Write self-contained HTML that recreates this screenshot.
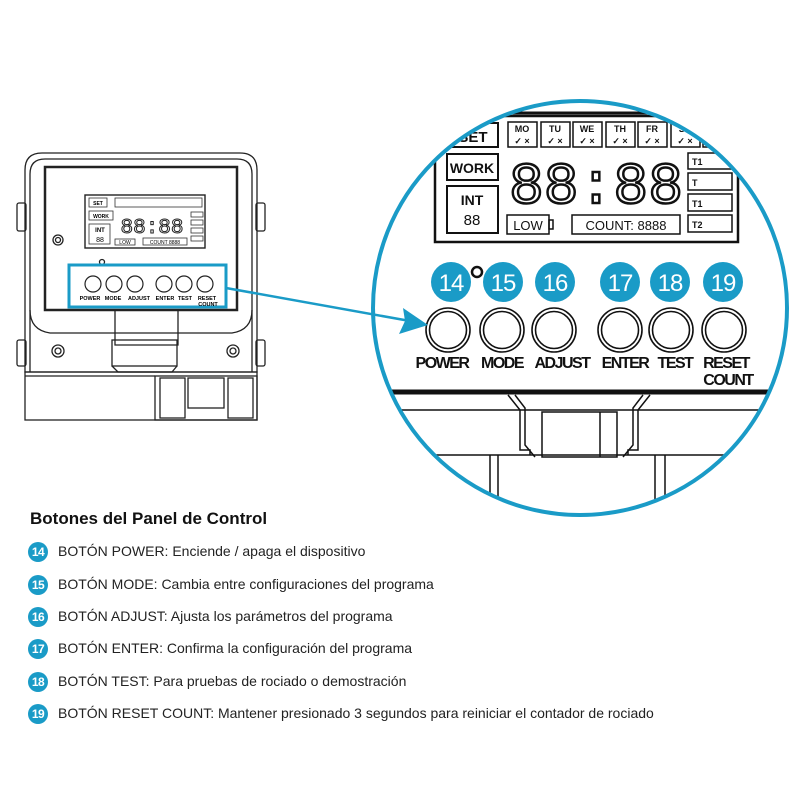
<!DOCTYPE html>
<html><head><meta charset="utf-8"><style>
html,body{margin:0;padding:0;background:#fff;width:800px;height:800px;overflow:hidden}
svg{display:block;font-family:"Liberation Sans",sans-serif}
.b{font-weight:bold}
</style></head><body>
<svg width="800" height="800" viewBox="0 0 800 800">
<defs><clipPath id="cc"><circle cx="580" cy="308" r="206"/></clipPath></defs>

<!-- Small device -->
<g fill="none" stroke="#222" stroke-width="1.3">
<rect x="17" y="203" width="9" height="28" rx="2"/>
<rect x="17" y="340" width="9" height="26" rx="2"/>
<rect x="256" y="203" width="9" height="28" rx="2"/>
<rect x="256" y="340" width="9" height="26" rx="2"/>
<path d="M25 372 V170 Q25 153 42 153 H240 Q257 153 257 170 V372 Z"/>
<path d="M30 372 V174 Q30 159 45 159 H237 Q252 159 252 174 V372"/>
<path d="M30 310 Q30 330 50 333 H232 Q252 330 252 310"/>
<rect x="45" y="167" width="192" height="143" stroke-width="2.5"/>
<rect x="85" y="195" width="120" height="53" stroke-width="1.4"/>
<circle cx="58" cy="240" r="5"/><circle cx="58" cy="240" r="2.5"/>
<circle cx="58" cy="351" r="6"/><circle cx="58" cy="351" r="3"/>
<circle cx="233" cy="351" r="6"/><circle cx="233" cy="351" r="3"/>
<rect x="25" y="372" width="232" height="48"/>
<line x1="25" y1="376" x2="155" y2="376"/>
<rect x="155" y="376" width="102" height="44"/>
<rect x="160" y="378" width="25" height="40"/><rect x="228" y="378" width="25" height="40"/>
<rect x="188" y="378" width="36" height="30"/>
<path d="M115 310 V345 H178 V310"/>
<rect x="112" y="340" width="65" height="26"/>
<path d="M112 366 L118 372 H172 L177 366"/>
<circle cx="102" cy="262" r="2.5"/>
</g>
<g fill="none" stroke="#333" stroke-width="0.8">
<rect x="89" y="198" width="18" height="9"/><rect x="89" y="211" width="24" height="9"/><rect x="89" y="224" width="21" height="20"/>
<rect x="115" y="198" width="87" height="9"/>
<rect x="115" y="239" width="20" height="6"/><rect x="143" y="238" width="44" height="7"/>
<rect x="191" y="212" width="12" height="5"/><rect x="191" y="220" width="12" height="5"/><rect x="191" y="228" width="12" height="5"/><rect x="191" y="236" width="12" height="5"/>
</g>
<text x="98" y="205" font-size="5" text-anchor="middle" class="b">SET</text>
<text x="101" y="218" font-size="5" text-anchor="middle" class="b">WORK</text>
<text x="100" y="232" font-size="6" text-anchor="middle" class="b">INT</text>
<text x="100" y="242" font-size="7" text-anchor="middle">88</text>
<text x="152" y="233" font-size="21" text-anchor="middle" font-family="Liberation Mono" fill="#fff" stroke="#222" stroke-width="1">88:88</text>
<text x="125" y="244" font-size="5" text-anchor="middle">LOW</text>
<text x="165" y="244" font-size="5" text-anchor="middle">COUNT 8888</text>
<rect x="69" y="265" width="157" height="42" fill="none" stroke="#1a9bc7" stroke-width="3"/>
<g fill="none" stroke="#222" stroke-width="1.2">
<circle cx="93" cy="284" r="8"/><circle cx="114" cy="284" r="8"/><circle cx="135" cy="284" r="8"/><circle cx="164" cy="284" r="8"/><circle cx="184" cy="284" r="8"/><circle cx="205" cy="284" r="8"/>
</g>
<g font-size="5.5" class="b" text-anchor="middle">
<text x="90" y="300">POWER</text><text x="113" y="300">MODE</text><text x="139" y="300">ADJUST</text><text x="165" y="300">ENTER</text><text x="185" y="300">TEST</text><text x="207" y="300">RESET</text><text x="208" y="306">COUNT</text>
</g>

<!-- magnified -->
<g clip-path="url(#cc)">
<rect x="370" y="100" width="420" height="420" fill="#fff"/>
<g fill="none" stroke="#111">
<line x1="380" y1="113" x2="790" y2="113" stroke-width="3"/>
<rect x="435" y="116" width="303" height="126" stroke-width="2.5"/>
<rect x="447" y="123" width="51" height="24" stroke-width="2"/>
<rect x="447" y="154" width="51" height="26" stroke-width="2"/>
<rect x="447" y="186" width="51" height="47" stroke-width="2"/>
<g stroke-width="1.5">
<rect x="508" y="122" width="29" height="25"/><rect x="541" y="122" width="29" height="25"/><rect x="573" y="122" width="29" height="25"/><rect x="606" y="122" width="29" height="25"/><rect x="638" y="122" width="29" height="25"/><rect x="671" y="122" width="29" height="25"/><rect x="703" y="122" width="29" height="25"/>
<rect x="688" y="153" width="44" height="16"/><rect x="688" y="173" width="44" height="17"/><rect x="688" y="194" width="44" height="17"/><rect x="688" y="215" width="44" height="17"/>
<rect x="507" y="215" width="42" height="19"/><rect x="549" y="220" width="4" height="9"/>
<rect x="572" y="215" width="108" height="19"/>
</g>
</g>
<text x="473" y="142" font-size="15" text-anchor="middle" class="b" fill="#111">SET</text>
<text x="472" y="173" font-size="14" text-anchor="middle" class="b" fill="#111">WORK</text>
<text x="472" y="205" font-size="14" text-anchor="middle" class="b" fill="#111">INT</text>
<text x="472" y="225" font-size="15" text-anchor="middle" fill="#111">88</text>
<g font-size="9" text-anchor="middle" fill="#111" class="b">
<text x="522" y="132">MO</text><text x="555" y="132">TU</text><text x="587" y="132">WE</text><text x="620" y="132">TH</text><text x="652" y="132">FR</text><text x="685" y="132">SA</text>
<text x="522" y="144">✓ ×</text><text x="555" y="144">✓ ×</text><text x="587" y="144">✓ ×</text><text x="620" y="144">✓ ×</text><text x="652" y="144">✓ ×</text><text x="685" y="144">✓ ×</text>
</g>
<g font-size="9" fill="#111" class="b"><text x="692" y="165">T1</text><text x="692" y="186">T</text><text x="692" y="207">T1</text><text x="692" y="228">T2</text></g>
<text x="596" y="203" font-size="58" text-anchor="middle" font-family="Liberation Mono" fill="#fff" stroke="#111" stroke-width="2.5">88:88</text>
<text x="528" y="230" font-size="13" text-anchor="middle" fill="#111">LOW</text>
<text x="626" y="230" font-size="13" text-anchor="middle" fill="#111">COUNT: 8888</text>

<circle cx="477" cy="272" r="5" fill="none" stroke="#111" stroke-width="2.5"/>
<g fill="#1a9bc7"><circle cx="451" cy="282" r="20"/><circle cx="503" cy="282" r="20"/><circle cx="555" cy="282" r="20"/><circle cx="620" cy="282" r="20"/><circle cx="670" cy="282" r="20"/><circle cx="723" cy="282" r="20"/></g>
<g fill="#fff" font-size="24" text-anchor="middle" letter-spacing="-1"><text x="451" y="291">14</text><text x="503" y="291">15</text><text x="555" y="291">16</text><text x="620" y="291">17</text><text x="670" y="291">18</text><text x="723" y="291">19</text></g>
<g fill="none" stroke="#111" stroke-width="1.6">
<circle cx="448" cy="330" r="22"/><circle cx="448" cy="330" r="18.5"/>
<circle cx="502" cy="330" r="22"/><circle cx="502" cy="330" r="18.5"/>
<circle cx="554" cy="330" r="22"/><circle cx="554" cy="330" r="18.5"/>
<circle cx="620" cy="330" r="22"/><circle cx="620" cy="330" r="18.5"/>
<circle cx="671" cy="330" r="22"/><circle cx="671" cy="330" r="18.5"/>
<circle cx="724" cy="330" r="22"/><circle cx="724" cy="330" r="18.5"/>
</g>
<g font-size="16" class="b" text-anchor="middle" fill="#111" letter-spacing="-1.5">
<text x="442" y="368">POWER</text><text x="502" y="368">MODE</text><text x="562" y="368">ADJUST</text><text x="625" y="368">ENTER</text><text x="675" y="368">TEST</text><text x="726" y="368">RESET</text><text x="728" y="385">COUNT</text>
</g>
<g fill="none" stroke="#111" stroke-width="1.5">
<line x1="380" y1="392" x2="790" y2="392" stroke-width="5"/>
<line x1="380" y1="410" x2="790" y2="410"/>
<line x1="380" y1="455" x2="790" y2="455"/>
<path d="M508 395 L520 410 V450 H530 V455 M650 395 L638 410 V450 H628 V455"/>
<path d="M515 395 L525 408 V445 L535 457 M643 395 L633 408 V445 L623 457"/>
<rect x="542" y="412" width="75" height="45"/>
<line x1="600" y1="412" x2="600" y2="457"/>
<path d="M490 455 V520 M498 455 V520 M655 455 V520 M665 455 V520"/>
</g>
</g>
<circle cx="580" cy="308" r="207" fill="none" stroke="#1a9bc7" stroke-width="4"/>

<!-- arrow -->
<line x1="226" y1="288" x2="410" y2="321" stroke="#1a9bc7" stroke-width="2.5"/>
<polygon points="428,325 399,334 405,321 403,308" fill="#1a9bc7"/>

<!-- list -->
<text x="30" y="524" font-size="17" class="b" fill="#111">Botones del Panel de Control</text>
<g fill="#1a9bc7"><circle cx="38" cy="552" r="10"/><circle cx="38" cy="585" r="10"/><circle cx="38" cy="617" r="10"/><circle cx="38" cy="649" r="10"/><circle cx="38" cy="682" r="10"/><circle cx="38" cy="714" r="10"/></g>
<g fill="#fff" font-size="12" class="b" text-anchor="middle" letter-spacing="-0.5"><text x="38" y="556">14</text><text x="38" y="589">15</text><text x="38" y="621">16</text><text x="38" y="653">17</text><text x="38" y="686">18</text><text x="38" y="718">19</text></g>
<g font-size="14" fill="#222">
<text x="58" y="556">BOTÓN POWER: Enciende / apaga el dispositivo</text>
<text x="58" y="589">BOTÓN MODE: Cambia entre configuraciones del programa</text>
<text x="58" y="621">BOTÓN ADJUST: Ajusta los parámetros del programa</text>
<text x="58" y="653">BOTÓN ENTER: Confirma la configuración del programa</text>
<text x="58" y="686">BOTÓN TEST: Para pruebas de rociado o demostración</text>
<text x="58" y="718">BOTÓN RESET COUNT: Mantener presionado 3 segundos para reiniciar el contador de rociado</text>
</g>
</svg>
</body></html>
